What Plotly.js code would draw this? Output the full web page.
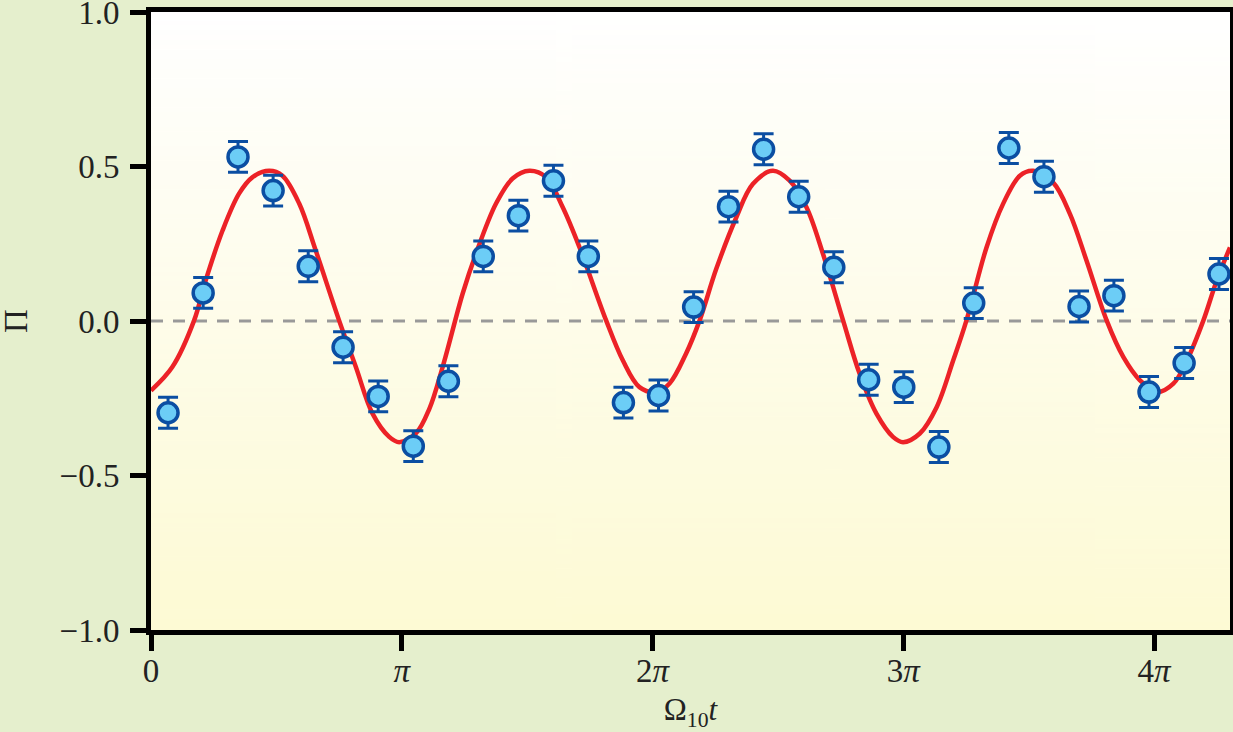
<!DOCTYPE html>
<html>
<head>
<meta charset="utf-8">
<script src="https://cdn.plot.ly/plotly-3.0.1.min.js"></script>
<style>
  html, body { margin: 0; padding: 0; background: #e5efcd; }
  #plot { width: 1233px; height: 732px; }
</style>
</head>
<body>
<div id="plot"></div>
<script>
// measured points, x in units of pi
const dataX = [0.068, 0.208, 0.347, 0.487, 0.627, 0.766, 0.906, 1.046, 1.186, 1.325,
               1.465, 1.605, 1.744, 1.884, 2.024, 2.164, 2.303, 2.443, 2.583, 2.723,
               2.862, 3.002, 3.142, 3.281, 3.421, 3.561, 3.701, 3.840, 3.980, 4.120, 4.259];
const dataY = [-0.297, 0.091, 0.531, 0.422, 0.177, -0.085, -0.244, -0.405, -0.195, 0.209,
               0.341, 0.454, 0.209, -0.264, -0.241, 0.045, 0.370, 0.556, 0.402, 0.174,
               -0.190, -0.214, -0.408, 0.058, 0.560, 0.467, 0.047, 0.082, -0.230, -0.136, 0.152];
const dataErr = [0.05, 0.05, 0.05, 0.05, 0.05, 0.05, 0.05, 0.05, 0.05, 0.05,
                 0.05, 0.05, 0.05, 0.05, 0.05, 0.05, 0.05, 0.05, 0.05, 0.05,
                 0.05, 0.05, 0.05, 0.05, 0.05, 0.05, 0.05, 0.05, 0.05, 0.05, 0.05];

// fit curve
const fitX = [0, 0.085, 0.172, 0.218, 0.285, 0.351, 0.404, 0.471, 0.524, 0.591,
              0.657, 0.750, 0.817, 0.883, 0.950, 0.990, 1.057, 1.110, 1.163, 1.243,
              1.296, 1.376, 1.442, 1.509, 1.576, 1.642, 1.709, 1.815, 1.882, 1.948,
              2.015, 2.068, 2.134, 2.188, 2.254, 2.334, 2.400, 2.480, 2.547, 2.614,
              2.680, 2.760, 2.826, 2.893, 2.959, 2.999, 3.066, 3.133, 3.199, 3.252,
              3.332, 3.398, 3.465, 3.518, 3.598, 3.665, 3.731, 3.811, 3.878, 3.944,
              4.011, 4.077, 4.131, 4.197, 4.250, 4.303];
const fitY = [-0.225, -0.149, 0.002, 0.131, 0.292, 0.412, 0.465, 0.486, 0.470, 0.380,
              0.228, 0.002, -0.149, -0.299, -0.375, -0.392, -0.363, -0.284, -0.149, 0.089,
              0.218, 0.380, 0.461, 0.486, 0.465, 0.368, 0.238, 0.002, -0.128, -0.214,
              -0.230, -0.202, -0.105, 0.002, 0.168, 0.335, 0.443, 0.486, 0.454, 0.368,
              0.217, 0.002, -0.171, -0.300, -0.375, -0.392, -0.364, -0.279, -0.128, 0.002,
              0.238, 0.379, 0.470, 0.486, 0.448, 0.346, 0.195, 0.002, -0.117, -0.192,
              -0.230, -0.203, -0.128, 0.002, 0.131, 0.238];

const xTickVals = [0, 1, 2, 3, 4];
const xTickText = ['0', '<i>π</i>', '2<i>π</i>', '3<i>π</i>', '4<i>π</i>'];
const yTickVals = [-1, -0.5, 0, 0.5, 1];
const yTickText = ['−1.0', '−0.5', '0.0', '0.5', '1.0'];

// background gradient for the plot area
function gradientImage() {
    const c = document.createElement('canvas');
    c.width = 4;
    c.height = 256;
    const ctx = c.getContext('2d');
    const g = ctx.createLinearGradient(0, 0, 0, 256);
    g.addColorStop(0, '#ffffff');
    g.addColorStop(1, '#fdfad4');
    ctx.fillStyle = g;
    ctx.fillRect(0, 0, 4, 256);
    return c.toDataURL();
}

const serif = 'Liberation Serif, DejaVu Serif, serif';

const fit = {
    x: fitX,
    y: fitY,
    mode: 'lines',
    type: 'scatter',
    line: { color: '#ec2227', width: 4.5, shape: 'spline', smoothing: 1 },
    hoverinfo: 'skip'
};

const points = {
    x: dataX,
    y: dataY,
    mode: 'markers',
    type: 'scatter',
    error_y: { type: 'data', array: dataErr, color: '#0b4ea2', thickness: 3, width: 10 },
    marker: { size: 20, color: '#6ccdf6', line: { color: '#0b4ea2', width: 3.5 } }
};

const layout = {
    width: 1233,
    height: 732,
    margin: { l: 151, r: 3, t: 12, b: 102 },
    paper_bgcolor: '#e5efcd',
    plot_bgcolor: 'rgba(0,0,0,0)',
    showlegend: false,
    font: { family: serif, size: 33, color: '#222' },
    images: [{
        source: gradientImage(),
        xref: 'paper', yref: 'paper',
        x: 0, y: 1, sizex: 1, sizey: 1,
        sizing: 'stretch', layer: 'below'
    }],
    shapes: [{
        type: 'line', xref: 'paper', yref: 'y',
        x0: 0, x1: 1, y0: 0, y1: 0,
        layer: 'below',
        line: { color: '#999999', width: 3, dash: '12px,10px' }
    }],
    // y-axis title as an annotation so it can sit right at the left edge
    annotations: [{
        text: 'Π',
        xref: 'paper', yref: 'y',
        x: 0, y: 0,
        xanchor: 'center', yanchor: 'middle',
        xshift: -135,
        textangle: -90,
        showarrow: false,
        font: { size: 33, color: '#222' }
    }],
    xaxis: {
        range: [0, 4.303],
        tickvals: xTickVals,
        ticktext: xTickText,
        ticks: 'outside',
        ticklen: 16,
        tickwidth: 5,
        tickcolor: '#000',
        showline: true,
        linewidth: 5,
        linecolor: '#000',
        mirror: true,
        showgrid: false,
        zeroline: false,
        ticklabelstandoff: -9,
        title: { text: 'Ω<sub>10</sub><i>t</i>', standoff: 14, font: { size: 31 } }
    },
    yaxis: {
        range: [-1, 1],
        tickvals: yTickVals,
        ticktext: yTickText,
        ticklabeloverflow: 'allow',
        ticks: 'outside',
        ticklen: 16,
        tickwidth: 5,
        tickcolor: '#000',
        showline: true,
        linewidth: 5,
        linecolor: '#000',
        mirror: true,
        showgrid: false,
        zeroline: false,
        ticklabelstandoff: 4
    }
};

Plotly.newPlot('plot', [fit, points], layout, { displayModeBar: false });
</script>
</body>
</html>
